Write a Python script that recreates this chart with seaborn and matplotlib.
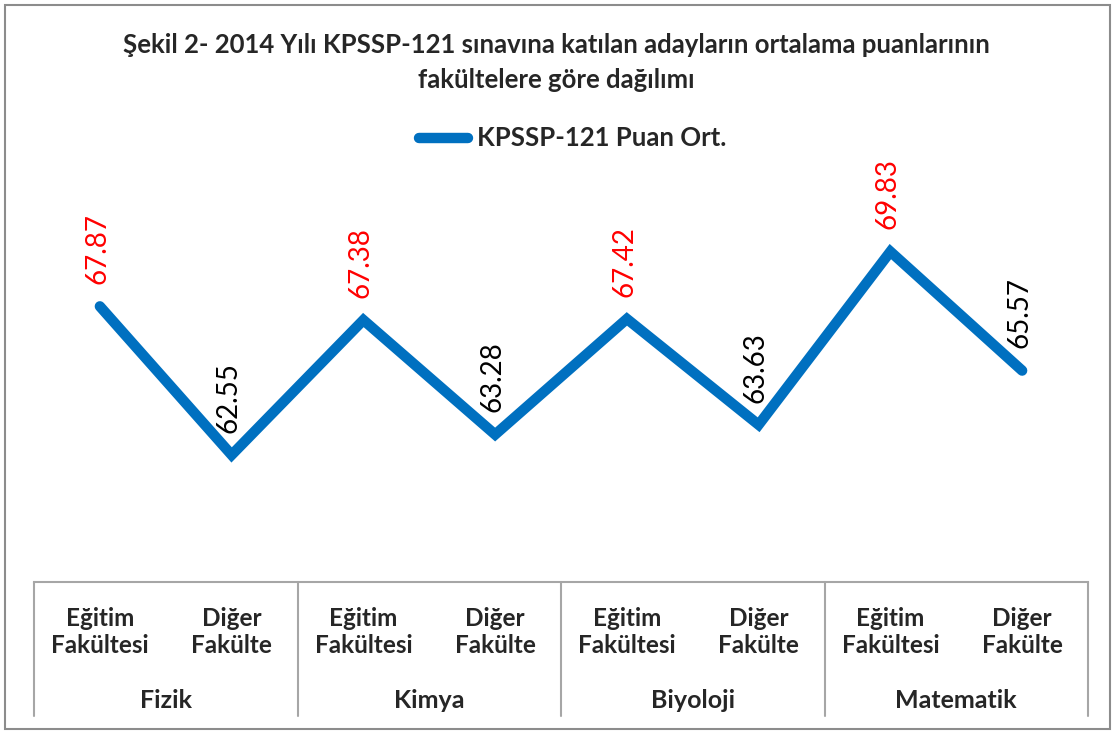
import matplotlib
matplotlib.use('Agg')
import matplotlib.pyplot as plt
import matplotlib.transforms as mtransforms
from matplotlib.patches import Rectangle
from matplotlib.lines import Line2D
import seaborn as sns
import pandas as pd

# Veriler
dersler = ['Fizik', 'Kimya', 'Biyoloji', 'Matematik']
fakulteler = ['Eğitim\nFakültesi', 'Diğer\nFakülte']
puanlar = [67.87, 62.55, 67.38, 63.28, 67.42, 63.63, 69.83, 65.57]
etiket_renk = ['red', 'black']

df = pd.DataFrame({
    'sira': range(len(puanlar)),
    'puan': puanlar,
})

sns.set_style('white')
plt.rcParams['font.family'] = ['Lato', 'DejaVu Sans']

W, H = 1112, 731
mavi = '#0070C0'
fig = plt.figure(figsize=(W / 100, H / 100), dpi=100)
# cerceve
fig.patches.append(Rectangle((5 / W, 2 / H), 1105 / W, 724 / H, transform=fig.transFigure,
                             fill=False, edgecolor='#8c8c8c', linewidth=1.5))

ax = fig.add_axes([34 / W, (H - 582) / H, (1088 - 34) / W, (582 - 191) / H])
sns.lineplot(data=df, x='sira', y='puan', ax=ax, color=mavi, linewidth=7.5, legend=False)
ax.lines[0].set_solid_capstyle('round')
ax.lines[0].set_solid_joinstyle('miter')

ax.set_xlim(-0.5, len(puanlar) - 0.5)
ax.set_ylim(58, 72)
ax.set_yticks([])
ax.set_xlabel('')
ax.set_ylabel('')
for s in ['left', 'right', 'top']:
    ax.spines[s].set_visible(False)
ax.spines['bottom'].set_color('#a6a6a6')
ax.spines['bottom'].set_linewidth(1.5)

# veri etiketleri
for i, v in enumerate(puanlar):
    ax.annotate(f'{v:.2f}', (i, v), xytext=(-2, 16), textcoords='offset points',
                rotation=90, ha='center', va='bottom', fontsize=20,
                color=etiket_renk[i % 2])

# kategori ekseni (iki seviye)
ax.set_xticks(range(len(puanlar)))
ax.set_xticklabels(fakulteler * len(dersler), fontsize=17.5, fontweight='bold',
                   linespacing=1.2)
ax.tick_params(axis='x', length=0, pad=18)

tr = mtransforms.blended_transform_factory(ax.transData, ax.transAxes)
for k in range(len(dersler) + 1):
    xx = 2 * k - 0.5
    ax.plot([xx, xx], [0, -134 / 391], transform=tr, clip_on=False,
            color='#a6a6a6', linewidth=1.5)
for k, d in enumerate(dersler):
    ax.text(2 * k + 0.5, -118 / 391, d, transform=tr, ha='center', va='center',
            fontsize=18, fontweight='bold')

# baslik ve legend
fig.text(0.5, (H - 45) / H, 'Şekil 2- 2014 Yılı KPSSP-121 sınavına katılan adayların ortalama puanlarının',
         ha='center', va='center', fontsize=18.5, fontweight='bold')
fig.text(0.5, (H - 80) / H, 'fakültelere göre dağılımı',
         ha='center', va='center', fontsize=18.5, fontweight='bold')
fig.add_artist(Line2D([419 / W, 468 / W], [(H - 138) / H] * 2, transform=fig.transFigure,
                      color=mavi, linewidth=7.5, solid_capstyle='round'))
fig.text(477 / W, (H - 138) / H, 'KPSSP-121 Puan Ort.', ha='left', va='center',
         fontsize=18.5, fontweight='bold')

fig.savefig('out.png', dpi=100)
